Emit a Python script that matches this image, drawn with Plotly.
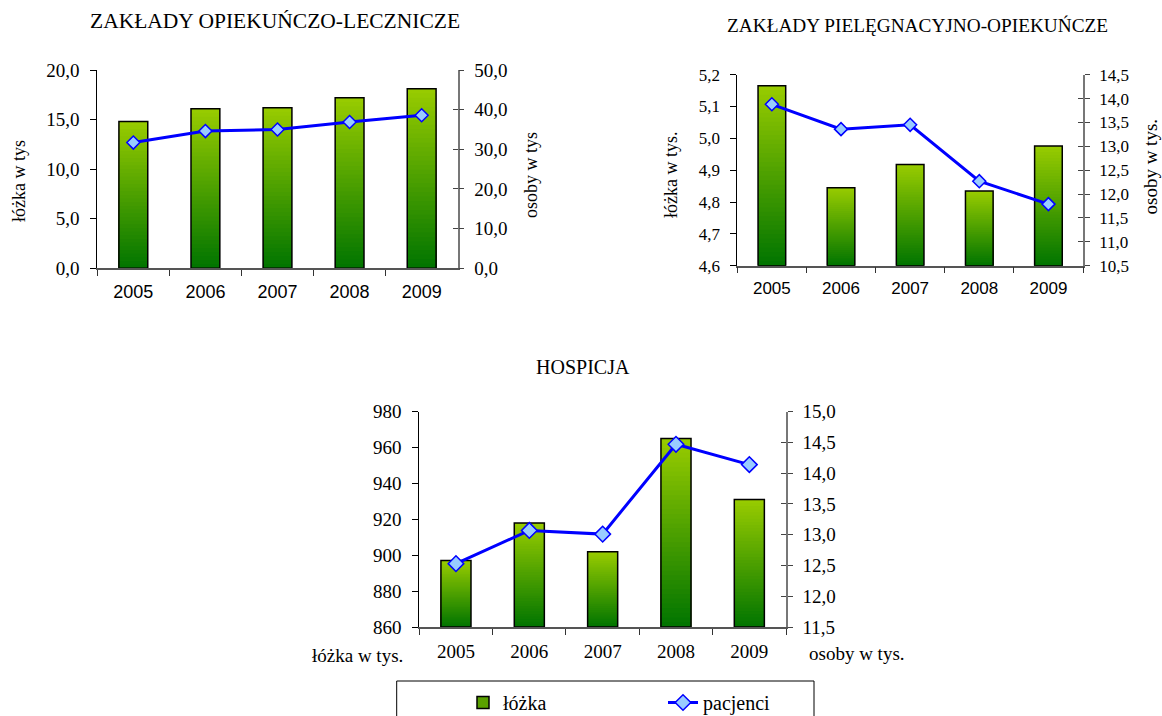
import plotly.graph_objects as go

years = ["2005", "2006", "2007", "2008", "2009"]

# Zakłady opiekuńczo-lecznicze (tys.)
zol_beds = [14.8, 16.1, 16.2, 17.2, 18.1]
zol_patients = [31.7, 34.6, 35.0, 36.9, 38.6]

# Zakłady pielęgnacyjno-opiekuńcze (tys.)
zpo_beds = [5.165, 4.845, 4.918, 4.835, 4.976]
zpo_patients = [13.88, 13.36, 13.45, 12.27, 11.79]

# Hospicja: łóżka w sztukach, pacjenci w tys.
hosp_beds = [897, 918, 902, 965, 931]
hosp_patients = [12.53, 13.07, 13.01, 14.47, 14.14]

SERIF = "Liberation Serif"
SANS = "Liberation Sans"

W, H = 1162, 716
DARK = (0, 116, 0)
LIGHT = (153, 204, 0)
N_SHADES = 40


def shade(t):
    r, g, b = (round(d + (l - d) * t) for d, l in zip(DARK, LIGHT))
    return f"rgb({r},{g},{b})"


def px_x(v):
    return v / W


def px_y(v):
    return 1 - v / H


panels = [
    dict(beds=zol_beds, pats=zol_patients, x="x", yl="y", yr="y2", yt="y7",
         xdom=[97.3, 457.7], ydom=[70, 268.3],
         lrange=[0, 20], ldtick=5, lfmt=".1f",
         rrange=[0, 50], rdtick=10, rfmt=".1f",
         width=0.4, tickfont=19, xfont=dict(family=SANS, size=18, color="black"),
         msize=10),
    dict(beds=zpo_beds, pats=zpo_patients, x="x2", yl="y3", yr="y4", yt="y8",
         xdom=[737.3, 1083], ydom=[74.7, 265.7],
         lrange=[4.6, 5.2], ldtick=0.1, lfmt=".1f",
         rrange=[10.5, 14.5], rdtick=0.5, rfmt=".1f",
         width=0.4, tickfont=17, xfont=dict(family=SANS, size=17, color="black"),
         msize=10),
    dict(beds=hosp_beds, pats=hosp_patients, x="x3", yl="y5", yr="y6", yt="y9",
         xdom=[419.3, 786], ydom=[411.7, 627],
         lrange=[860, 980], ldtick=20, lfmt="d",
         rrange=[11.5, 15.0], rdtick=0.5, rfmt=".1f",
         width=0.41, tickfont=19, xfont=dict(family=SERIF, size=19, color="black"),
         msize=12),
]

fig = go.Figure()

for i, p in enumerate(panels):
    lo = p["lrange"][0]
    heights = [b - lo for b in p["beds"]]
    # vertical gradient: stacked overlays, each shorter and darker than the last
    for k in range(N_SHADES):
        frac = (N_SHADES - k) / N_SHADES
        t = (N_SHADES - k - 0.5) / N_SHADES
        fig.add_bar(x=years, y=[h * frac for h in heights], base=lo,
                    width=p["width"], xaxis=p["x"], yaxis=p["yl"],
                    marker=dict(color=shade(t), line=dict(width=0)),
                    showlegend=False, hoverinfo="skip")
    # bar outline
    fig.add_bar(x=years, y=heights, base=lo, width=p["width"],
                xaxis=p["x"], yaxis=p["yl"],
                marker=dict(color="rgba(0,0,0,0)", line=dict(color="black", width=1.5)),
                showlegend=False, hoverinfo="skip")
    if i == 2:
        fig.add_bar(x=[None], y=[None], name="łóżka", xaxis=p["x"], yaxis=p["yl"],
                    marker=dict(color="rgb(90,160,0)", line=dict(color="black", width=1.5)),
                    showlegend=True, legendrank=1)
    fig.add_scatter(x=years, y=p["pats"], mode="lines+markers", name="pacjenci",
                    xaxis=p["x"], yaxis=p["yr"],
                    line=dict(color="#0000FF", width=3),
                    marker=dict(symbol="diamond", size=p["msize"], color="#99CCFF",
                                line=dict(color="#0000FF", width=1.5)),
                    showlegend=(i == 2), legendrank=2)
    # carrier for the inward half of the right-axis ticks
    fig.add_scatter(x=years, y=p["pats"], mode="lines", xaxis=p["x"], yaxis=p["yt"],
                    line=dict(width=0, color="rgba(0,0,0,0)"), showlegend=False,
                    hoverinfo="skip")

layout = dict(
    width=W, height=H, margin=dict(l=0, r=0, t=0, b=0, autoexpand=False),
    paper_bgcolor="white", plot_bgcolor="white",
    barmode="overlay", separators=", ",
    font=dict(family=SERIF, size=18, color="black"),
)

for i, p in enumerate(panels):
    xname = "xaxis" if p["x"] == "x" else "xaxis" + p["x"][1:]
    yl = "yaxis" if p["yl"] == "y" else "yaxis" + p["yl"][1:]
    yr = "yaxis" + p["yr"][1:]
    yt = "yaxis" + p["yt"][1:]
    tf = dict(family=SERIF, size=p["tickfont"], color="black")
    layout[xname] = dict(
        domain=[px_x(p["xdom"][0]), px_x(p["xdom"][1])], anchor=p["yl"],
        type="category", range=[-0.5, 4.5], showgrid=False, zeroline=False,
        showline=True, linecolor="#555555", linewidth=1.5,
        ticks="outside", tickson="boundaries", ticklen=6, tickcolor="#333333",
        tickfont=p["xfont"], ticklabelstandoff=6,
    )
    layout[yl] = dict(
        domain=[px_y(p["ydom"][1]), px_y(p["ydom"][0])], anchor=p["x"],
        range=p["lrange"], tickmode="linear", tick0=p["lrange"][0], dtick=p["ldtick"],
        tickformat=p["lfmt"], showgrid=False, zeroline=False,
        showline=True, linecolor="black", linewidth=1,
        ticks="outside", ticklen=6, tickcolor="black", tickfont=tf,
        ticklabelstandoff=7,
    )
    layout[yr] = dict(
        overlaying=p["yl"], side="right", anchor=p["x"],
        range=p["rrange"], tickmode="linear", tick0=p["rrange"][0], dtick=p["rdtick"],
        tickformat=p["rfmt"], showgrid=False, zeroline=False,
        showline=True, linecolor="#777777", linewidth=1.5,
        ticks="outside", ticklen=5, tickcolor="#444444", tickfont=tf,
        ticklabelstandoff=6,
    )
    layout[yt] = dict(
        overlaying=p["yl"], side="right", anchor=p["x"],
        range=p["rrange"], tickmode="linear", tick0=p["rrange"][0], dtick=p["rdtick"],
        showgrid=False, zeroline=False, showline=False, showticklabels=False,
        ticks="inside", ticklen=5, tickcolor="#444444",
    )

layout["legend"] = dict(
    orientation="h", x=px_x(463), xanchor="left", y=px_y(683), yanchor="top",
    bgcolor="rgba(0,0,0,0)", borderwidth=0, entrywidth=155,
    font=dict(family=SERIF, size=20, color="black"), traceorder="normal",
)

layout["shapes"] = [
    dict(type="rect", xref="paper", yref="paper",
         x0=px_x(396.7), x1=px_x(814), y0=px_y(730), y1=px_y(681),
         line=dict(color="black", width=1), fillcolor="rgba(0,0,0,0)", layer="below"),
]


def ann(text, x, y, size, angle=0, xanchor="center"):
    return dict(text=text, x=px_x(x), y=px_y(y), xref="paper", yref="paper",
                showarrow=False, textangle=angle, xanchor=xanchor, yanchor="middle",
                font=dict(family=SERIF, size=size, color="black"))


layout["annotations"] = [
    ann("ZAKŁADY OPIEKUŃCZO-LECZNICZE", 275, 21, 21.5),
    ann("ZAKŁADY PIELĘGNACYJNO-OPIEKUŃCZE", 917, 26, 19.3),
    ann("HOSPICJA", 583, 367, 20),
    ann("łóżka w tys", 18.5, 181.5, 18, -90),
    ann("osoby w tys", 531, 175, 18, -90),
    ann("łóżka w tys.", 671, 175, 18, -90),
    ann("osoby w tys.", 1150, 166.5, 19, -90),
    ann("łóżka w tys.", 405, 655, 19, 0, "right"),
    ann("osoby w tys.", 807, 653, 19, 0, "left"),
]

fig.update_layout(**layout)
fig.write_html("out.html")
